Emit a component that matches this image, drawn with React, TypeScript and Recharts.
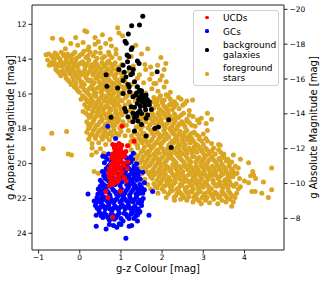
import { ScatterChart, Scatter, XAxis, YAxis, ReferenceLine } from "recharts";

// g-z colour vs g magnitude (x = g-z, y = g apparent mag)

const xTicks = [-1, 0, 1, 2, 3, 4];
const appTicks = [12, 14, 16, 18, 20, 22, 24];
const absTicks = [-20, -18, -16, -14, -12, -10, -8];

// foreground stars: outliers / thin edges
const fgSparse = [
  [-0.66, 12.8], [-0.45, 12.85], [-0.42, 12.95], [-0.1, 12.75], [0.12, 12.37], [0.17, 12.42], [0.37, 12.75],
  [0.55, 12.6], [0.74, 12.85], [0.92, 12.2], [0.95, 12.5], [1.04, 12.65], [1.36, 13.2], [1.65, 13.4],
  [1.97, 13.9], [2.09, 14.25], [1.89, 14.35], [2.05, 14.6], [1.8, 15.4], [1.95, 15.2], [-0.68, 18.25],
  [-0.32, 18.15], [-0.89, 19.15], [-0.28, 19.45], [-0.2, 19.5], [0.35, 20.45], [0.45, 20.55], [0.29, 19.5],
  [4.66, 20.25], [4.2, 20.45], [4.1, 19.95], [3.9, 19.75], [4.15, 20.7], [4.22, 20.65], [4.27, 20.85],
  [4.0, 21.0], [4.1, 21.1], [4.46, 21.05], [4.66, 21.5], [4.18, 21.6], [4.26, 21.6], [4.42, 21.7],
  [4.58, 21.95], [3.69, 22.45], [3.41, 18.95], [3.37, 18.9], [3.73, 19.5], [3.1, 17.1], [3.2, 17.45],
  [3.07, 17.7], [3.1, 18.1], [2.46, 16.3], [2.74, 16.35], [2.25, 16.6], [2.5, 16.65], [2.66, 17.2], [2.86, 17.5],
];

// foreground stars: main diagonal body
const fgBody = [
  [-0.22, 13.1], [-0.05, 13.2], [0.08, 13.05], [0.22, 13.3], [0.37, 13.15], [0.5, 13.35], [0.63, 13.1],
  [0.77, 13.25], [0.88, 13.45], [0.2, 13.45], [-0.35, 13.4], [0.45, 13.0],
  [-0.82, 13.75], [-0.75, 13.7], [-0.68, 13.82], [-0.6, 13.65], [-0.52, 13.9], [-0.45, 13.6], [-0.38, 13.8],
  [-0.3, 13.7], [-0.2, 13.95], [-0.12, 13.6], [-0.02, 13.85], [0.06, 13.7], [0.15, 13.9], [0.25, 13.6],
  [0.33, 13.8], [0.42, 13.95], [0.5, 13.65], [0.6, 13.85], [0.7, 13.6], [0.78, 13.9], [0.88, 13.7],
  [0.97, 13.95], [1.25, 13.85], [1.5, 13.7],
  [-0.78, 14.05], [-0.7, 14.2], [-0.62, 14.1], [-0.55, 14.3], [-0.47, 14.15], [-0.4, 14.4], [-0.33, 14.05],
  [-0.25, 14.25], [-0.17, 14.45], [-0.1, 14.1], [-0.02, 14.3], [0.07, 14.15], [0.14, 14.4], [0.22, 14.05],
  [0.3, 14.3], [0.38, 14.15], [0.46, 14.45], [0.54, 14.2], [0.62, 14.35], [0.7, 14.1], [0.78, 14.4],
  [0.86, 14.2], [0.94, 14.45], [1.02, 14.3], [1.3, 14.4], [1.58, 14.3], [1.72, 14.45],
  [-0.58, 14.6], [-0.5, 14.8], [-0.42, 14.65], [-0.35, 14.9], [-0.27, 14.7], [-0.19, 14.55], [-0.11, 14.85],
  [-0.03, 14.65], [0.05, 14.9], [0.12, 14.6], [0.2, 14.8], [0.28, 14.55], [0.36, 14.75], [0.44, 14.95],
  [0.52, 14.6], [0.6, 14.8], [0.68, 14.55], [0.76, 14.75], [0.84, 14.95], [0.9, 14.6], [1.0, 14.8],
  [1.2, 14.7], [1.45, 14.9], [1.6, 14.6], [1.75, 14.85], [2.0, 14.95],
  [-0.33, 15.1], [-0.25, 15.3], [-0.17, 15.05], [-0.09, 15.4], [-0.01, 15.15], [0.07, 15.35], [0.15, 15.05],
  [0.23, 15.25], [0.31, 15.45], [0.39, 15.1], [0.47, 15.3], [0.55, 15.05], [0.63, 15.4], [0.71, 15.2],
  [0.79, 15.45], [0.86, 15.1], [0.95, 15.35], [1.02, 15.05], [1.1, 15.3], [1.25, 15.45], [1.4, 15.1],
  [1.55, 15.35], [1.7, 15.15], [1.85, 15.4], [2.1, 15.3],
  [-0.13, 15.6], [-0.05, 15.8], [0.03, 15.55], [0.11, 15.75], [0.19, 15.95], [0.27, 15.6], [0.35, 15.85],
  [0.43, 15.65], [0.51, 15.9], [0.59, 15.55], [0.67, 15.8], [0.75, 15.6], [0.83, 15.95], [0.91, 15.75],
  [0.99, 15.55], [1.07, 15.85], [1.15, 15.65], [1.25, 15.95], [1.38, 15.6], [1.6, 15.95], [1.75, 15.7],
  [1.9, 15.85], [2.05, 15.6], [2.2, 15.9],
  [0.07, 16.1], [0.15, 16.3], [0.23, 16.05], [0.31, 16.4], [0.39, 16.15], [0.47, 16.35], [0.55, 16.05],
  [0.63, 16.25], [0.71, 16.45], [0.79, 16.1], [0.87, 16.3], [0.95, 16.05], [1.03, 16.4], [1.11, 16.2],
  [1.19, 16.45], [1.35, 16.4], [1.8, 16.2], [1.88, 16.45], [1.96, 16.1], [2.05, 16.35], [2.15, 16.15],
  [2.3, 16.45], [2.6, 16.4],
  [0.12, 16.6], [0.2, 16.85], [0.28, 16.55], [0.36, 16.75], [0.44, 16.95], [0.52, 16.6], [0.6, 16.8],
  [0.68, 16.55], [0.76, 16.9], [0.84, 16.7], [0.92, 16.55], [1.0, 16.85], [1.1, 16.65], [1.2, 16.95],
  [1.85, 16.6], [1.93, 16.85], [2.01, 16.55], [2.09, 16.8], [2.17, 16.65], [2.25, 16.9], [2.35, 16.6],
  [2.66, 16.95],
  [0.15, 17.1], [0.23, 17.35], [0.31, 17.05], [0.39, 17.3], [0.47, 17.15], [0.55, 17.45], [0.63, 17.2],
  [0.71, 17.05], [0.79, 17.35], [0.87, 17.1], [0.95, 17.45], [1.03, 17.2], [1.11, 17.05], [1.19, 17.4],
  [1.3, 17.3], [1.42, 17.05], [1.5, 17.4], [1.6, 17.15], [1.75, 17.05], [1.82, 17.35], [1.9, 17.1],
  [1.98, 17.45], [2.06, 17.2], [2.14, 17.05], [2.22, 17.4], [2.3, 17.15], [2.4, 17.35], [2.52, 17.1],
  [0.17, 17.6], [0.25, 17.85], [0.33, 17.55], [0.41, 17.8], [0.49, 17.6], [0.57, 17.95], [0.65, 17.7],
  [0.73, 17.55], [0.81, 17.85], [0.89, 17.65], [0.97, 17.95], [1.05, 17.6], [1.13, 17.8], [1.21, 17.55],
  [1.37, 17.9], [1.45, 17.65], [1.53, 17.85], [1.61, 17.6], [1.7, 17.8], [1.78, 17.55], [2.0, 17.7],
  [2.08, 17.95], [2.16, 17.6], [2.24, 17.85], [2.32, 17.55], [2.4, 17.8], [2.48, 17.6], [2.56, 17.9],
  [2.66, 17.65], [2.8, 17.85],
  [0.17, 18.2], [0.25, 18.4], [0.33, 18.1], [0.41, 18.35], [0.49, 18.05], [0.57, 18.3], [0.65, 18.45],
  [0.75, 18.2], [0.83, 18.05], [0.95, 18.35], [1.1, 18.4], [1.18, 18.1], [1.26, 18.4], [1.4, 18.3],
  [1.48, 18.05], [1.56, 18.25], [1.72, 18.1], [1.8, 18.4], [1.88, 18.2], [1.96, 18.45], [2.04, 18.1],
  [2.12, 18.35], [2.2, 18.05], [2.28, 18.3], [2.36, 18.45], [2.44, 18.15], [2.52, 18.4], [2.6, 18.1],
  [2.68, 18.35], [2.78, 18.2], [2.9, 18.45],
  [0.22, 18.6], [0.3, 18.85], [0.38, 18.55], [0.46, 18.8], [0.55, 18.6], [0.63, 18.9], [0.72, 18.65],
  [1.2, 18.95], [1.28, 18.6], [1.36, 18.85], [1.44, 18.55], [1.52, 18.8], [1.6, 18.65], [1.68, 18.95],
  [1.76, 18.6], [1.84, 18.85], [1.92, 18.55], [2.0, 18.8], [2.08, 18.6], [2.16, 18.95], [2.24, 18.7],
  [2.32, 18.55], [2.4, 18.85], [2.48, 18.6], [2.56, 18.9], [2.64, 18.65], [2.72, 18.55], [2.8, 18.85],
  [2.9, 18.6], [3.0, 18.9], [3.1, 18.7],
  [0.3, 19.1], [0.4, 19.35], [0.5, 19.15], [0.58, 19.4], [1.25, 19.2], [1.33, 19.45], [1.41, 19.1],
  [1.49, 19.35], [1.57, 19.05], [1.65, 19.3], [1.73, 19.15], [1.81, 19.45], [1.89, 19.2], [1.97, 19.05],
  [2.05, 19.35], [2.13, 19.15], [2.21, 19.45], [2.29, 19.25], [2.37, 19.05], [2.45, 19.35], [2.53, 19.1],
  [2.61, 19.4], [2.69, 19.2], [2.77, 19.05], [2.85, 19.35], [2.93, 19.15], [3.01, 19.45], [3.09, 19.2],
  [3.17, 19.35], [3.25, 19.1], [3.37, 19.2], [3.5, 19.45],
  [1.2, 19.7], [1.32, 19.95], [1.38, 19.7], [1.46, 19.95], [1.54, 19.6], [1.62, 19.85], [1.7, 19.55],
  [1.78, 19.8], [1.86, 19.65], [1.94, 19.95], [2.02, 19.6], [2.1, 19.85], [2.18, 19.55], [2.26, 19.75],
  [2.34, 19.95], [2.42, 19.65], [2.5, 19.85], [2.58, 19.55], [2.66, 19.8], [2.74, 19.6], [2.82, 19.9],
  [2.9, 19.65], [2.98, 19.85], [3.06, 19.55], [3.14, 19.8], [3.22, 19.6], [3.3, 19.9], [3.38, 19.7],
  [3.47, 19.55], [3.56, 19.85], [3.69, 19.9],
  [1.45, 20.25], [1.55, 20.2], [1.62, 20.45], [1.7, 20.1], [1.78, 20.35], [1.86, 20.05], [1.94, 20.3],
  [2.02, 20.5], [2.1, 20.15], [2.18, 20.4], [2.26, 20.05], [2.34, 20.3], [2.42, 20.15], [2.5, 20.45],
  [2.58, 20.2], [2.66, 20.05], [2.74, 20.35], [2.82, 20.15], [2.9, 20.45], [2.98, 20.2], [3.06, 20.05],
  [3.14, 20.35], [3.22, 20.15], [3.3, 20.45], [3.38, 20.25], [3.46, 20.05], [3.54, 20.35], [3.62, 20.15],
  [3.72, 20.4], [3.85, 20.25],
  [1.5, 20.6], [1.58, 20.9], [1.68, 20.6], [1.76, 20.85], [1.84, 20.55], [1.92, 20.75], [2.0, 20.95],
  [2.08, 20.6], [2.16, 20.8], [2.24, 20.55], [2.32, 20.9], [2.4, 20.7], [2.48, 20.55], [2.56, 20.85],
  [2.64, 20.65], [2.72, 20.95], [2.8, 20.7], [2.88, 20.55], [2.96, 20.85], [3.04, 20.6], [3.12, 20.9],
  [3.2, 20.7], [3.28, 20.55], [3.36, 20.85], [3.44, 20.65], [3.52, 20.95], [3.6, 20.7], [3.68, 20.55],
  [3.77, 20.6], [3.88, 20.85],
  [1.65, 21.2], [1.72, 21.45], [1.8, 21.15], [1.88, 21.4], [1.96, 21.1], [2.04, 21.3], [2.12, 21.05],
  [2.2, 21.35], [2.28, 21.15], [2.36, 21.45], [2.44, 21.2], [2.52, 21.05], [2.6, 21.35], [2.68, 21.15],
  [2.76, 21.45], [2.84, 21.2], [2.92, 21.05], [3.0, 21.35], [3.08, 21.15], [3.16, 21.4], [3.24, 21.1],
  [3.32, 21.3], [3.4, 21.05], [3.48, 21.4], [3.56, 21.2], [3.64, 21.05], [3.74, 21.3], [3.9, 21.33],
  [1.9, 21.7], [2.05, 21.6], [2.15, 21.75], [2.25, 21.55], [2.33, 21.85], [2.41, 21.6], [2.49, 21.8],
  [2.57, 21.55], [2.65, 21.9], [2.73, 21.65], [2.81, 21.85], [2.89, 21.6], [2.97, 21.95], [3.05, 21.7],
  [3.13, 21.55], [3.21, 21.85], [3.29, 21.65], [3.37, 21.95], [3.45, 21.6], [3.53, 21.8], [3.61, 21.55],
  [3.7, 21.85], [3.81, 21.7],
  [2.1, 21.95], [2.3, 22.1], [2.45, 22.05], [2.6, 22.1], [2.75, 22.2], [2.85, 22.05], [2.95, 22.3],
  [3.05, 22.1], [3.15, 22.25], [3.25, 22.05], [3.35, 22.3], [3.45, 22.1], [3.55, 22.2], [3.65, 22.05],
  [3.73, 22.2], [2.9, 22.15],
];

// foreground stars: extra points where the cloud is solid
const fgCore = [
  [0.27, 15.2], [0.35, 15.35], [0.43, 15.05], [0.51, 15.45], [0.59, 15.25], [0.67, 15.05], [0.75, 15.3],
  [0.83, 15.4], [0.91, 15.2], [0.31, 15.7], [0.39, 15.95], [0.47, 15.6], [0.55, 15.75], [0.63, 15.65],
  [0.71, 15.95], [0.79, 15.75], [0.87, 15.55], [0.95, 15.9], [0.27, 16.25], [0.35, 16.05], [0.43, 16.45],
  [0.51, 16.2], [0.59, 16.4], [0.67, 16.1], [0.75, 16.3], [0.83, 16.45], [0.91, 16.2], [0.99, 16.35],
  [0.24, 16.7], [0.32, 16.95], [0.4, 16.6], [0.48, 16.8], [0.56, 16.95], [0.64, 16.7], [0.72, 16.8],
  [0.8, 16.55], [0.88, 16.95], [0.96, 16.7], [0.27, 17.25], [0.35, 17.45], [0.43, 17.05], [0.51, 17.3],
  [0.59, 17.1], [0.67, 17.4], [0.75, 17.2], [0.83, 17.45], [0.91, 17.3], [0.99, 17.1], [0.29, 17.7],
  [0.37, 17.95], [0.45, 17.75], [0.53, 17.55], [0.61, 17.8], [0.69, 17.95], [0.77, 17.65], [0.85, 17.8],
  [0.93, 17.55], [1.01, 17.8], [0.29, 18.3], [0.37, 18.45], [0.45, 18.2], [0.53, 18.45], [0.61, 18.15],
  [0.69, 18.3], [0.79, 18.4], [0.88, 18.25], [1.0, 18.15],
  [1.05, 15.6], [1.15, 16.1], [1.22, 16.6], [1.28, 17.0], [1.35, 16.2], [1.08, 16.9],
  [1.32, 18.2], [1.44, 18.45], [1.52, 18.3], [1.64, 18.4], [1.76, 18.25], [1.84, 18.05], [1.92, 18.3],
  [2.0, 18.4], [2.08, 18.25], [2.16, 18.45], [1.24, 18.75], [1.32, 18.6], [1.4, 18.95], [1.48, 18.7],
  [1.56, 18.55], [1.64, 18.8], [1.72, 18.7], [1.8, 18.95], [1.88, 18.75], [1.96, 18.9], [2.04, 18.7],
  [2.12, 18.55], [2.2, 18.85], [1.53, 19.25], [1.61, 19.45], [1.69, 19.3], [1.77, 19.05], [1.85, 19.3],
  [1.93, 19.4], [2.01, 19.15], [2.09, 19.45], [2.17, 19.3],
  [2.22, 19.65], [2.3, 19.85], [2.38, 19.55], [2.46, 19.75], [2.54, 19.95], [2.62, 19.7], [2.7, 19.9],
  [2.78, 19.6], [2.86, 19.75], [2.94, 19.95], [3.02, 19.7], [3.1, 19.95], [3.18, 19.7], [3.26, 19.8],
  [2.22, 20.3], [2.3, 20.1], [2.38, 20.45], [2.46, 20.25], [2.54, 20.1], [2.62, 20.35], [2.7, 20.2],
  [2.78, 20.5], [2.86, 20.3], [2.94, 20.1], [3.02, 20.4], [3.1, 20.2], [3.18, 20.5], [3.26, 20.3],
  [3.34, 20.1], [2.2, 20.95], [2.28, 20.7], [2.36, 20.6], [2.44, 20.9], [2.52, 20.7], [2.6, 20.95],
  [2.68, 20.55], [2.76, 20.75], [2.84, 20.95], [2.92, 20.7], [3.0, 20.6], [3.08, 20.75], [3.16, 20.6],
  [3.24, 20.95], [3.32, 20.7], [2.24, 21.3], [2.32, 21.05], [2.4, 21.4], [2.48, 21.25], [2.56, 21.45],
  [2.64, 21.05], [2.72, 21.3], [2.8, 21.1], [2.88, 21.4], [2.96, 21.25], [3.04, 21.05], [3.12, 21.3],
  [3.2, 21.45], [3.28, 21.2], [2.45, 21.7], [2.53, 21.95], [2.61, 21.7], [2.69, 21.6], [2.77, 21.95],
  [2.85, 21.75], [2.93, 21.6], [3.01, 21.8], [3.09, 21.95], [3.17, 21.7], [3.25, 21.8],
];

// foreground stars: third layer for the lobe, the middle and the lower-right clump
const fgFill = [
  [-0.64, 13.95], [-0.56, 13.75], [-0.48, 14.0], [-0.4, 13.7], [-0.32, 13.95], [-0.24, 13.8], [-0.16, 13.7],
  [-0.08, 13.95], [0.02, 13.75], [0.1, 13.55], [0.2, 13.8], [0.38, 13.6], [0.55, 13.95], [0.72, 13.75],
  [-0.74, 14.35], [-0.66, 14.3], [-0.58, 14.45], [-0.5, 14.4], [-0.43, 14.25], [-0.36, 14.2], [-0.29, 14.45],
  [-0.21, 14.15], [-0.13, 14.3], [-0.06, 14.45], [0.03, 14.2], [0.1, 14.3], [0.18, 14.25], [0.26, 14.45],
  [0.34, 14.4], [0.42, 14.3], [0.58, 14.45], [0.66, 14.2], [0.74, 14.25], [0.82, 14.35],
  [-0.54, 14.7], [-0.46, 14.95], [-0.39, 14.8], [-0.31, 14.6], [-0.23, 14.85], [-0.15, 14.7], [-0.07, 14.95],
  [0.01, 14.8], [0.09, 14.75], [0.16, 14.95], [0.24, 14.7], [0.32, 14.9], [0.4, 14.6], [0.48, 14.8],
  [0.56, 14.95], [0.64, 14.7], [0.72, 14.9], [0.8, 14.6], [0.88, 14.85], [0.96, 14.7],
  [-0.29, 15.2], [-0.21, 15.45], [-0.13, 15.25], [-0.05, 15.05], [0.03, 15.3], [0.11, 15.45], [0.19, 15.2],
  [-0.09, 15.65], [-0.01, 15.9], [0.07, 15.6], [0.15, 15.85], [0.23, 15.7],
  [0.11, 16.2], [0.19, 16.45], [0.03, 16.3], [0.16, 16.75], [0.08, 17.0], [0.2, 17.2], [0.21, 17.75], [0.21, 18.0],
  [1.78, 16.45], [1.84, 16.3], [1.92, 16.25], [2.0, 16.4], [2.1, 16.05], [2.2, 16.3], [2.4, 16.2],
  [1.8, 16.8], [1.89, 16.65], [1.97, 16.95], [2.05, 16.7], [2.13, 16.9], [2.21, 16.55], [2.29, 16.75],
  [2.41, 16.85], [2.55, 16.55],
  [1.34, 17.45], [1.46, 17.25], [1.56, 17.3], [1.7, 17.4], [1.78, 17.2], [1.86, 17.45], [1.94, 17.25],
  [2.02, 17.05], [2.1, 17.35], [2.18, 17.25], [2.26, 17.45], [2.34, 17.3], [2.46, 17.2], [2.6, 17.45],
  [2.75, 17.3], [2.95, 17.4],
  [1.41, 17.9], [1.49, 17.55], [1.66, 17.95], [1.74, 17.7], [1.86, 17.75], [1.94, 17.6], [2.04, 17.85],
  [2.12, 17.7], [2.2, 17.95], [2.28, 17.7], [2.36, 17.95], [2.44, 17.7], [2.52, 17.75], [2.6, 17.55],
  [2.72, 17.8], [2.9, 17.65],
  [2.24, 18.2], [2.32, 18.05], [2.4, 18.3], [2.48, 18.4], [2.56, 18.2], [2.64, 18.45], [2.72, 18.25],
  [2.84, 18.35], [3.0, 18.3],
  [2.28, 18.8], [2.36, 18.65], [2.44, 18.95], [2.52, 18.75], [2.6, 18.55], [2.68, 18.8], [2.76, 18.7],
  [2.86, 18.95], [2.96, 18.7], [3.06, 18.55], [3.2, 18.85],
  [2.25, 19.1], [2.33, 19.4], [2.41, 19.2], [2.49, 19.45], [2.57, 19.25], [2.65, 19.1], [2.73, 19.4],
  [2.81, 19.25], [2.89, 19.05], [2.97, 19.3], [3.05, 19.1], [3.13, 19.45], [3.21, 19.25], [3.29, 19.45],
  [3.42, 19.35],
  [1.42, 19.55], [1.5, 19.8], [1.58, 19.95], [1.66, 19.7], [1.74, 19.95], [1.82, 19.6], [1.9, 19.8],
  [1.98, 19.7], [2.06, 19.95], [2.14, 19.7],
  [1.6, 20.3], [1.66, 20.15], [1.74, 20.45], [1.82, 20.2], [1.9, 20.45], [1.98, 20.15], [2.06, 20.35],
  [2.14, 20.2], [1.72, 20.75], [1.8, 20.65], [1.88, 20.95], [1.96, 20.6], [2.04, 20.8], [2.12, 20.95],
  [1.84, 21.35], [1.92, 21.2], [2.0, 21.45], [2.08, 21.25], [2.16, 21.15],
  [3.42, 19.85], [3.5, 19.65], [3.6, 19.75], [3.64, 20.0], [3.5, 20.2], [3.42, 20.4], [3.58, 20.5],
  [3.68, 20.3], [3.78, 20.15], [3.4, 20.75], [3.48, 20.6], [3.56, 20.9], [3.64, 20.8], [3.72, 20.75],
  [3.82, 20.55], [3.36, 21.2], [3.44, 21.3], [3.52, 21.1], [3.6, 21.35], [3.68, 21.2], [3.8, 21.15],
  [3.85, 21.45], [3.33, 21.75], [3.41, 21.85], [3.49, 21.7], [3.57, 21.95], [3.65, 21.7], [3.77, 21.95],
  [2.37, 21.7], [2.29, 21.95], [2.2, 21.6],
];

// background galaxies
const bgGalaxies = [
  [1.53, 11.54], [1.45, 12.04], [1.26, 12.08], [1.18, 12.56], [1.1, 12.97], [1.13, 13.08], [1.25, 13.45],
  [1.27, 13.35], [1.15, 13.76], [1.19, 13.85], [1.16, 14.15], [1.4, 14.1], [1.44, 14.25], [1.88, 14.72],
  [0.95, 14.6], [1.08, 14.75], [0.64, 14.9], [1.12, 15.02], [1.24, 14.9], [1.28, 14.82], [1.05, 15.22],
  [1.33, 15.3], [1.17, 15.45], [0.66, 15.55], [0.92, 15.65], [1.2, 15.58], [1.21, 15.87], [1.05, 15.97],
  [1.45, 15.78], [1.5, 15.82], [1.38, 15.95], [1.61, 16.06], [1.29, 16.16], [1.36, 16.06], [1.45, 16.2],
  [1.57, 16.25], [1.43, 16.33], [1.52, 16.36], [1.64, 16.31], [1.52, 16.48], [1.58, 16.52], [1.69, 16.45],
  [1.4, 16.55], [1.25, 16.74], [1.33, 16.76], [1.47, 16.7], [1.58, 16.72], [1.74, 16.89], [1.69, 16.64],
  [1.09, 16.83], [1.12, 17.0], [1.29, 17.11], [1.4, 17.1], [1.5, 17.12], [1.65, 17.21], [1.17, 17.31],
  [1.33, 17.35], [0.76, 17.33], [1.29, 17.6], [1.41, 17.55], [1.61, 17.4], [1.5, 17.75], [1.82, 17.98],
  [1.91, 17.89], [2.16, 17.48], [1.33, 18.13], [1.61, 18.42], [2.22, 19.07], [1.2, 14.5], [1.3, 14.6],
  [1.05, 14.35], [1.5, 16.0], [1.55, 16.15], [1.46, 16.95], [1.6, 16.9], [1.38, 17.3], [1.4, 15.58],
];

// globular clusters
const gcs = [
  [0.62, 19.6], [0.7, 19.45], [0.78, 19.7], [1.08, 19.5], [1.16, 19.75], [1.24, 19.6], [1.3, 19.4],
  [0.95, 19.35], [0.85, 19.6],
  [0.6, 19.95], [0.68, 20.2], [0.76, 19.9], [0.84, 20.15], [0.92, 19.95], [1.0, 20.25], [1.08, 20.0],
  [1.16, 20.2], [1.24, 19.9], [1.32, 20.15], [0.64, 20.3], [1.2, 20.3], [1.38, 20.0],
  [0.55, 20.45], [0.63, 20.7], [0.71, 20.4], [0.79, 20.65], [0.87, 20.35], [0.95, 20.6], [1.03, 20.75],
  [1.11, 20.45], [1.19, 20.7], [1.27, 20.4], [1.35, 20.6], [1.43, 20.45], [0.6, 20.55], [1.53, 20.5],
  [0.5, 20.95], [0.58, 21.2], [0.66, 20.9], [0.74, 21.15], [0.82, 20.85], [0.9, 21.1], [0.98, 21.25],
  [1.06, 20.95], [1.14, 21.2], [1.22, 20.9], [1.3, 21.15], [1.38, 20.95], [1.46, 21.2], [1.57, 21.1],
  [0.54, 21.1], [0.7, 21.0], [0.86, 21.2], [1.02, 21.05], [1.18, 21.05], [1.34, 21.25],
  [0.45, 21.45], [0.53, 21.7], [0.61, 21.4], [0.69, 21.65], [0.77, 21.35], [0.85, 21.6], [0.93, 21.75],
  [1.01, 21.45], [1.09, 21.7], [1.17, 21.4], [1.25, 21.65], [1.33, 21.35], [1.41, 21.6], [1.49, 21.45],
  [1.57, 21.5], [1.77, 21.6], [0.2, 21.75], [0.49, 21.55], [0.65, 21.55], [0.81, 21.5], [0.97, 21.6],
  [1.13, 21.55], [1.29, 21.5], [1.45, 21.7],
  [0.35, 22.15], [0.42, 21.95], [0.5, 22.2], [0.58, 21.9], [0.66, 22.15], [0.74, 21.95], [0.82, 22.25],
  [0.9, 22.0], [0.98, 22.2], [1.06, 21.9], [1.14, 22.15], [1.22, 21.95], [1.3, 22.2], [1.38, 21.9],
  [1.46, 22.1], [1.54, 22.0], [0.46, 22.05], [0.62, 22.05], [0.78, 22.1], [0.94, 21.85], [1.1, 22.05],
  [1.26, 22.1], [1.42, 22.25], [0.54, 21.85],
  [0.38, 22.4], [0.46, 22.65], [0.54, 22.35], [0.62, 22.6], [0.7, 22.4], [0.78, 22.7], [0.86, 22.45],
  [0.94, 22.65], [1.02, 22.35], [1.1, 22.6], [1.18, 22.4], [1.26, 22.7], [1.34, 22.45], [1.42, 22.6],
  [1.5, 22.4], [0.5, 22.5], [0.66, 22.5], [0.82, 22.55], [0.98, 22.5], [1.14, 22.5], [1.3, 22.55],
  [1.46, 22.75],
  [0.4, 22.97], [0.52, 23.0], [0.6, 22.85], [0.68, 23.1], [0.76, 22.9], [0.84, 23.2], [0.92, 22.95],
  [1.0, 23.15], [1.08, 22.85], [1.16, 23.05], [1.24, 22.9], [1.32, 23.15], [1.4, 22.95], [1.68, 22.96],
  [0.72, 23.25], [1.05, 23.3],
  [0.4, 23.6], [0.64, 23.75], [0.72, 23.5], [0.82, 23.55], [0.9, 23.65], [1.0, 23.5], [1.2, 23.6],
  [1.26, 23.55], [1.4, 23.3], [0.96, 23.45],
  [1.12, 24.28], [0.68, 17.85], [0.87, 18.55], [0.56, 19.57],
  // second pass over the solid part
  [0.66, 19.75], [0.72, 20.1], [1.12, 19.65], [1.2, 19.95], [1.28, 19.75], [1.3, 20.4], [1.38, 20.3],
  [1.42, 20.7], [1.47, 20.9], [0.58, 20.7], [0.62, 20.85], [0.66, 21.3], [0.58, 21.45], [0.5, 21.3],
  [1.2, 21.25], [1.26, 21.0], [1.38, 21.4], [1.5, 21.35], [1.53, 21.7], [0.44, 21.75], [0.57, 21.6],
  [0.73, 21.8], [0.89, 21.75], [1.05, 21.75], [1.21, 21.8], [1.37, 21.75], [0.4, 22.25], [0.54, 22.1],
  [0.7, 22.25], [0.86, 22.1], [1.02, 22.1], [1.18, 22.25], [1.34, 22.05], [1.5, 22.2], [0.42, 22.55],
  [0.58, 22.45], [0.74, 22.6], [0.9, 22.55], [1.06, 22.45], [1.22, 22.55], [1.38, 22.7], [0.48, 22.8],
  [0.56, 23.1], [0.64, 22.95], [0.8, 22.95], [0.88, 23.1], [0.96, 22.85], [1.12, 22.9], [1.2, 23.15],
  [1.28, 22.8], [1.36, 23.0], [1.44, 22.8], [0.74, 20.55], [0.8, 20.95], [1.1, 20.6], [1.16, 20.85],
  [1.24, 20.6], [1.32, 20.8], [1.4, 20.55], [1.06, 20.3], [1.12, 20.1],
];

// ultra-compact dwarfs
const ucds = [
  [0.8, 18.9], [0.88, 18.95], [0.95, 18.85], [1.02, 18.95], [0.84, 19.1], [0.92, 19.15], [0.99, 19.1],
  [0.86, 19.3], [0.94, 19.35], [1.01, 19.3], [0.8, 19.45], [0.88, 19.5], [0.96, 19.55], [1.04, 19.45],
  [0.78, 19.65], [0.85, 19.7], [0.92, 19.75], [1.0, 19.7], [0.82, 19.9], [0.9, 19.95], [0.97, 19.9],
  [1.05, 19.95], [0.76, 20.05], [0.84, 20.15], [0.92, 20.1], [0.99, 20.2], [1.07, 20.1], [0.72, 20.3],
  [0.8, 20.35], [0.88, 20.4], [0.95, 20.3], [1.02, 20.45], [0.7, 20.55], [0.78, 20.6], [0.86, 20.55],
  [0.94, 20.65], [1.0, 20.6], [0.72, 20.8], [0.8, 20.85], [0.9, 20.85], [0.96, 20.9], [0.75, 21.05],
  [0.83, 21.1], [0.9, 21.05], [0.72, 21.25], [0.8, 21.2], [1.12, 19.3], [1.15, 20.3], [1.08, 20.8],
  [1.03, 17.85], [1.32, 18.72], [1.16, 18.97], [1.09, 19.57], [1.17, 19.9], [1.13, 21.0], [0.99, 21.58],
  [0.63, 21.6], [0.68, 21.94], [0.8, 23.08],
];

const toPts = (arr: number[][]) => arr.map(([x, y]) => ({ x, y }));
const fgData = toPts([...fgSparse, ...fgBody, ...fgCore, ...fgFill]);

const GOLD = "#daa520";
const dot = (color: string) => (p: any) => <circle cx={p.cx} cy={p.cy} r={2.5} fill={color} />;
const minus = (v: number) => String(v).replace("-", "\u2212");
const tickStyle = { fontSize: 7.5, fill: "#000" };

const title = (text: string, x: number, y: number, rotate: boolean) => ({
  value: text,
  content: () => (
    <text x={x} y={y} transform={rotate ? `rotate(-90 ${x} ${y})` : undefined}
      textAnchor="middle" dominantBaseline="central" fontSize={10} fill="#000">{text}</text>
  ),
});

const LEGEND = [
  { label: ["UCDs"], color: "#ff0000", top: 2.3, dotY: 7.3 },
  { label: ["GCs"], color: "#0000ff", top: 16, dotY: 21 },
  { label: ["background", "galaxies"], color: "#000000", top: 28.5, dotY: 40 },
  { label: ["foreground", "stars"], color: GOLD, top: 52, dotY: 64 },
];

export default function App() {
  return (
    <div style={{ position: "absolute", left: 0, top: 0, width: 323, height: 281, fontFamily: "DejaVu Sans", background: "#fff" }}>
      <ScatterChart width={323} height={281} margin={{ top: 5, right: 0, bottom: 0, left: 0 }}>
        <XAxis dataKey="x" type="number" domain={[-1.16, 4.96]} allowDataOverflow ticks={xTicks}
          height={31} tickSize={3.5} tickMargin={1} tick={tickStyle} tickFormatter={minus}
          axisLine={{ stroke: "#222" }} tickLine={{ stroke: "#222" }}
          label={title("g-z Colour [mag]", 158, 268, false)} />
        <YAxis yAxisId="left" dataKey="y" type="number" domain={[10.89, 24.96]} allowDataOverflow reversed
          ticks={appTicks} width={32} tickSize={3.5} tickMargin={2} tick={tickStyle}
          axisLine={{ stroke: "#222" }} tickLine={{ stroke: "#222" }}
          label={title("g Apparent Magnitude [mag]", 10, 127.5, true)} />
        <YAxis yAxisId="right" orientation="right" type="number" domain={[-20.25, -6.18]} allowDataOverflow reversed
          ticks={absTicks} width={39} tickSize={3.5} tickMargin={2} tick={tickStyle} tickFormatter={minus}
          axisLine={{ stroke: "#222" }} tickLine={{ stroke: "#222" }}
          label={title("g Absolute Magnitude [mag]", 313, 127.5, true)} />
        <ReferenceLine yAxisId="left" y={10.89} stroke="#222" ifOverflow="visible" />
        <Scatter yAxisId="left" data={fgData} shape={dot(GOLD)} isAnimationActive={false} />
        <Scatter yAxisId="left" data={toPts(bgGalaxies)} shape={dot("#000000")} isAnimationActive={false} />
        <Scatter yAxisId="left" data={toPts(gcs)} shape={dot("#0000ff")} isAnimationActive={false} />
        <Scatter yAxisId="left" data={toPts(ucds)} shape={dot("#ff0000")} isAnimationActive={false} />
      </ScatterChart>
      <div style={{ position: "absolute", left: 193, top: 10, width: 86, height: 76, boxSizing: "border-box",
        border: "1px solid #d0d0d0", borderRadius: 3, background: "rgba(255,255,255,0.85)", fontSize: 9, color: "#000" }}>
        {LEGEND.map((e) => (
          <div key={e.label[0]}>
            <div style={{ position: "absolute", left: 11.4, top: e.dotY - 2.6, width: 3.2, height: 3.2, borderRadius: "50%", background: e.color }} />
            <div style={{ position: "absolute", left: 29, top: e.top, lineHeight: "10px" }}>
              {e.label.map((l) => <div key={l}>{l}</div>)}
            </div>
          </div>
        ))}
      </div>
    </div>
  );
}
